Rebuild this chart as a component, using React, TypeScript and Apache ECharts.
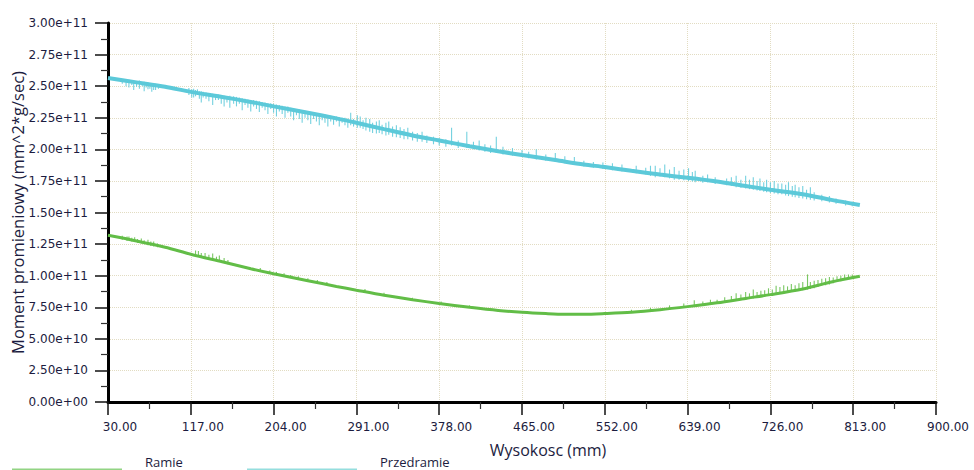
import React, { useEffect, useRef } from "react";
import * as echarts from "echarts";

// x axis (Wysokosc, mm)
const X_MIN = 30;
const X_MAX = 900;
const X_STEP = 87;
// y axis (values stored in units of 1e9)
const Y_UNIT = 1e9;
const Y_MAX = 3e11;
const Y_STEP = 2.5e10;

const seriesNames = ["Ramie", "Przedramie"];

// Przedramie (cyan) main trend: [x, value/1e9]
const przedramie: [number, number][] = [
  [30, 256.5], [60, 253], [90, 249.5], [117, 245.5], [150, 241.5], [180, 237.5],
  [204, 234], [240, 229], [270, 224.5], [291, 221], [320, 216], [350, 211],
  [378, 207], [410, 202.5], [440, 198.5], [465, 195.5], [500, 191.5], [530, 188],
  [552, 186], [580, 183], [610, 180], [639, 177.5], [670, 174.5], [700, 171],
  [726, 168], [760, 164.5], [790, 160], [820, 156],
];

// Przedramie noise spikes: [x, low, high] (1e9)
const przedramieSpikes: [number, number, number][] = [
  [45, 252, 255.5], [49, 250, 255], [52, 249, 255], [55, 251, 254], [57, 247, 254], [60, 249.5, 254],
  [63, 248, 254.5], [66, 250, 253], [68, 246, 253.5], [70, 249, 252.5], [72, 247.5, 253], [74, 248, 252],
  [76, 245.5, 252.5], [78, 247, 251.5], [80, 247, 252], [83, 248, 251],
  [115, 243, 248.5], [118, 241, 247.5], [120, 241, 248], [122, 242, 247], [124, 243, 247.5], [126, 240, 246],
  [128, 237, 246], [130, 241, 245.5], [133, 240, 245], [136, 238, 244.5], [140, 235, 244], [143, 239, 243.5],
  [146, 239, 243.5], [149, 236, 243], [152, 234, 242.5], [155, 237, 242],
  [158, 233, 242.5], [162, 236, 242], [165, 234, 241.5], [168, 236, 241], [171, 231, 240.5], [174, 235, 240],
  [177, 233, 239.5], [180, 230, 239], [183, 234, 239], [186, 232, 238.5], [189, 229.5, 238], [192, 233, 237.5],
  [195, 231, 237], [198, 228, 236.5], [201, 232, 236.5], [204, 229, 236], [207, 226, 235.5], [210, 230, 235],
  [213, 228, 234.5], [216, 225, 234], [219, 229, 234], [222, 226, 233], [225, 223, 232.5], [228, 227, 232],
  [231, 224, 231.5], [234, 221, 231], [237, 225, 230.5], [240, 223, 230], [243, 220, 229.5], [246, 224, 229],
  [249, 222, 228.5], [252, 219, 228], [255, 223, 228], [258, 221, 227.5], [261, 218, 227], [264, 222, 226.5],
  [267, 219.5, 226], [270, 222, 226], [273, 218, 225.5], [276, 221, 225], [279, 219, 225], [282, 217, 224.5],
  [285, 219, 229], [288, 218, 224],
  [292, 217, 227], [295, 217, 226], [298, 216, 223], [301, 215, 225], [305, 214, 224], [308, 213, 221],
  [312, 212.5, 222], [315, 213, 223], [318, 212, 219.5], [322, 211, 221], [325, 211.5, 222], [329, 210, 218],
  [333, 209.5, 219], [337, 209, 217.5], [341, 208, 216], [345, 208, 217], [350, 207, 214], [355, 206, 213],
  [360, 206, 214], [365, 205, 211], [372, 204, 210], [378, 203, 209],
  [385, 202, 208], [391, 203, 217], [398, 201, 207], [407, 201, 214], [414, 200, 206], [420, 199, 207],
  [426, 198, 204], [432, 197, 203], [438, 197, 210], [445, 196, 202], [455, 195, 201], [465, 194, 199.5],
  [472, 193, 198], [480, 192, 200], [490, 191, 196], [500, 190, 197], [510, 189, 194.5], [520, 188, 194],
  [530, 186.5, 191], [540, 185.5, 190], [550, 184.5, 189.5], [560, 183.5, 189], [570, 182.5, 188],
  [585, 181, 187], [595, 180, 185.5],
  [600, 179, 187], [605, 178, 187], [610, 178.5, 185], [615, 178, 188], [620, 177, 184], [625, 176, 186],
  [630, 176, 183], [635, 175.5, 184], [640, 175, 185], [644, 174.5, 182], [647, 174, 183], [655, 173.5, 179],
  [660, 174, 180], [668, 172.5, 178],
  [680, 171.5, 177], [685, 171, 178], [690, 170, 179], [695, 169.5, 176], [700, 169, 179], [704, 168.5, 176],
  [708, 168, 178], [712, 167.5, 175], [715, 167, 177], [719, 166.5, 174], [722, 166, 176], [726, 165.5, 174],
  [730, 165, 175], [734, 164.5, 173], [738, 164.5, 173], [742, 163.5, 172], [745, 163, 174], [749, 162.5, 171],
  [752, 162, 172], [756, 161.5, 170], [760, 161, 171], [764, 160.5, 168], [768, 160, 170], [772, 159.5, 166],
  [780, 159, 164], [788, 158, 163], [795, 157, 161], [805, 155.5, 159.5], [812, 155, 158.5],
];

// Ramie (green) main trend: [x, value/1e9]
const ramie: [number, number][] = [
  [30, 132], [60, 127.5], [90, 122.5], [117, 117], [150, 111], [180, 105.5],
  [204, 101.5], [240, 96], [270, 91.5], [291, 88.5], [320, 84.5], [350, 81],
  [378, 78], [410, 75], [440, 72.5], [465, 71], [490, 70], [510, 69.5],
  [530, 69.5], [552, 70], [580, 71], [610, 73], [639, 75.5], [670, 78.5],
  [700, 82], [726, 85], [760, 89.5], [790, 95], [820, 99.5],
];

// Ramie noise spikes: [x, low, high] (1e9)
const ramieSpikes: [number, number, number][] = [
  [45, 128.5, 131.5], [50, 127.5, 131], [52, 128, 131], [55, 127, 130], [58, 127, 130.5], [61, 126, 129],
  [65, 125.5, 129.5], [68, 125, 128], [72, 124, 128.5], [75, 123.5, 127], [78, 123, 127], [82, 122.5, 125.5],
  [122, 116, 120], [125, 115, 119.5], [128, 114.5, 118], [132, 114, 118], [136, 113, 116.5], [140, 112, 117.5],
  [144, 111.5, 115], [147, 111, 116], [152, 110, 114], [156, 109, 112.5],
  [190, 103, 106], [200, 101.5, 104], [207, 100, 103], [215, 99, 102], [222, 98, 100.5], [230, 97, 99.5],
  [240, 95.5, 98], [250, 94, 96.5], [260, 92.5, 95],
  [300, 87, 89.5], [320, 84, 86.5], [350, 80.5, 82.5], [380, 77.5, 79.5], [410, 74.5, 76.5],
  [580, 70.5, 73], [600, 72, 74.5], [620, 73.5, 76.5], [635, 74.5, 78], [646, 76, 80.5], [655, 76.5, 79.5],
  [663, 77.5, 81], [670, 78, 81], [678, 79, 83],
  [685, 79.5, 84], [690, 80, 86], [695, 80.5, 85], [700, 81, 87], [704, 81.5, 86], [708, 82, 89],
  [712, 82.5, 87], [716, 83, 88], [720, 83.5, 88.5], [724, 84, 90], [728, 84.5, 89], [732, 85, 92],
  [736, 85.5, 91], [740, 86, 92.5], [744, 86.5, 91.5], [748, 87, 93.5], [752, 87.5, 92.5], [756, 88, 94],
  [760, 88.5, 95], [765, 89, 101], [768, 89.5, 95], [772, 90, 96], [776, 91, 96.5], [780, 92, 97.5],
  [784, 92.5, 98], [788, 93, 99], [792, 94, 98.5], [796, 95, 99.5], [800, 95.5, 100], [804, 97, 101],
  [808, 97.5, 101], [812, 98, 101],
];

const CYAN = "#5cc9d9";
const GREEN = "#62bd47";
const TEXT = "#1c1c40";
const FONT = "'Open Sans', sans-serif";
const TICK_FONT = "'DejaVu Sans', sans-serif";
const GRID = "#e2dcc2";

function fmtY(v: number): string {
  if (Math.abs(v) < 1) return "0.00e+00";
  const e = Math.floor(Math.log10(v) + 1e-9);
  const m = v / Math.pow(10, e);
  return m.toFixed(2) + "e+" + String(e).padStart(2, "0");
}

export default function App() {
  const ref = useRef<HTMLDivElement>(null);
  useEffect(() => {
    if (!ref.current) return;
    const chart = echarts.init(ref.current, null, { renderer: "svg" });

    const toLine = (arr: [number, number][]) => arr.map(([x, y]) => [x - X_MIN, y * Y_UNIT]);
    const toSpikes = (arr: [number, number, number][]) =>
      arr.map(([x, lo, hi]) => [x - X_MIN, lo * Y_UNIT, hi * Y_UNIT]);

    const spikeRender = (color: string) => (params: any, api: any) => {
      const x = api.value(0);
      const p1 = api.coord([x, api.value(1)]);
      const p2 = api.coord([x, api.value(2)]);
      return {
        type: "line",
        shape: { x1: p1[0], y1: p1[1], x2: p2[0], y2: p2[1] },
        style: { stroke: color, lineWidth: 1.1, opacity: 0.85 },
      };
    };

    chart.setOption({
      animation: false,
      backgroundColor: "#ffffff",
      textStyle: { fontFamily: FONT },
      grid: { left: 108, right: 38, top: 23, bottom: 68, containLabel: false, outerBoundsMode: "none" },
      xAxis: {
        type: "value",
        min: 0,
        max: X_MAX - X_MIN,
        interval: X_STEP,
        name: "Wysokosc (mm)",
        nameLocation: "middle",
        nameGap: 40,
        nameMoveOverlap: false,
        nameTextStyle: { fontSize: 16, color: TEXT, fontFamily: FONT, padding: [0, 0, 0, 52], verticalAlign: "top" },
        axisLine: { onZero: false, lineStyle: { color: "#000", width: 3 } },
        axisTick: { show: true, length: 13, lineStyle: { color: "#111", width: 1.5 } },
        minorTick: { show: true, splitNumber: 2, length: 7, lineStyle: { color: "#333", width: 1.2 } },
        axisLabel: {
          color: TEXT,
          fontSize: 12,
          fontFamily: TICK_FONT,
          margin: 19,
          align: "center",
          padding: [0, 0, 0, 24],
          formatter: (v: number) => (v + X_MIN).toFixed(2),
        },
        splitLine: { show: true, lineStyle: { color: GRID, type: "dotted", width: 1 } },
      },
      yAxis: {
        type: "value",
        min: 0,
        max: Y_MAX,
        interval: Y_STEP,
        name: "Moment promieniowy (mm^2*g/sec)",
        nameLocation: "middle",
        nameGap: 82,
        nameMoveOverlap: false,
        nameTextStyle: { fontSize: 16.5, color: TEXT, fontFamily: FONT },
        axisLine: { show: true, onZero: false, lineStyle: { color: "#000", width: 3 } },
        axisTick: { show: true, length: 13, lineStyle: { color: "#111", width: 1.5 } },
        minorTick: { show: true, splitNumber: 2, length: 7, lineStyle: { color: "#333", width: 1.2 } },
        axisLabel: { color: TEXT, fontSize: 12, fontFamily: TICK_FONT, margin: 20, formatter: fmtY },
        splitLine: { show: true, lineStyle: { color: GRID, type: "dotted", width: 1 } },
      },
      graphic: [
        { type: "line", shape: { x1: 12, y1: 469.5, x2: 122, y2: 469.5 }, style: { stroke: "#92d484", lineWidth: 2 } },
        { type: "text", x: 145, y: 455, style: { text: seriesNames[0], fill: TEXT, fontSize: 13, fontFamily: FONT } },
        { type: "line", shape: { x1: 247, y1: 469.5, x2: 357, y2: 469.5 }, style: { stroke: "#95dede", lineWidth: 2 } },
        { type: "text", x: 380, y: 455, style: { text: seriesNames[1], fill: TEXT, fontSize: 13, fontFamily: FONT } },
      ],
      series: [
        {
          type: "custom",
          name: seriesNames[1] + " noise",
          renderItem: spikeRender(CYAN),
          data: toSpikes(przedramieSpikes),
          z: 1,
        },
        {
          type: "custom",
          name: seriesNames[0] + " noise",
          renderItem: spikeRender(GREEN),
          data: toSpikes(ramieSpikes),
          z: 1,
        },
        {
          type: "line",
          name: seriesNames[1],
          data: toLine(przedramie),
          showSymbol: false,
          symbol: "none",
          smooth: 0.3,
          lineStyle: { color: CYAN, width: 4 },
          z: 3,
        },
        {
          type: "line",
          name: seriesNames[0],
          data: toLine(ramie),
          showSymbol: false,
          symbol: "none",
          smooth: 0.3,
          lineStyle: { color: GREEN, width: 3 },
          z: 3,
        },
      ],
    });
    return () => chart.dispose();
  }, []);
  return (
    <div
      ref={ref}
      style={{ position: "fixed", left: 0, top: 0, width: 974, height: 470, background: "#fff" }}
    />
  );
}
